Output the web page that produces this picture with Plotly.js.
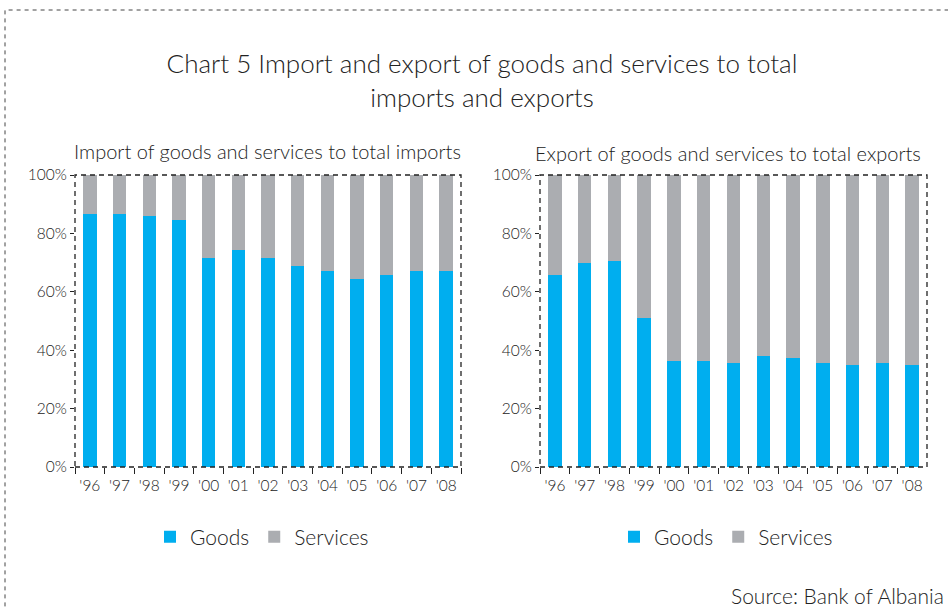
<!DOCTYPE html>
<html>
<head>
<meta charset="utf-8">
<script src="https://cdn.plot.ly/plotly-3.0.1.min.js"></script>
<style>html,body{margin:0;padding:0;background:#fff;}#chart{width:948px;height:607px;}</style>
</head>
<body>
<div id="chart"></div>
<script>
const years = ["'96","'97","'98","'99","'00","'01","'02","'03","'04","'05","'06","'07","'08"];
const importGoods    = [86.6, 86.6, 85.9, 84.6, 71.5, 74.3, 71.5, 68.8, 67.1, 64.3, 65.7, 67.1, 67.1];
const importServices = [13.4, 13.4, 14.1, 15.4, 28.5, 25.7, 28.5, 31.2, 32.9, 35.7, 34.3, 32.9, 32.9];
const exportGoods    = [65.6, 70.0, 70.7, 51.0, 36.2, 36.2, 35.5, 37.9, 37.2, 35.5, 34.8, 35.5, 34.8];
const exportServices = [34.4, 30.0, 29.3, 49.0, 63.8, 63.8, 64.5, 62.1, 62.8, 64.5, 65.2, 64.5, 65.2];
const yTicks = [0, 20, 40, 60, 80, 100];
const yTickLabels = ['0%', '20%', '40%', '60%', '80%', '100%'];

const goodsColor = '#00AEEF';
const servColor = '#ABADB1';
const textColor = '#222222';
const fontFam = 'Lato, "Open Sans", sans-serif';

const traces = [
  {type:'bar', x: years, y: importGoods, name:'Goods', marker:{color:goodsColor}, xaxis:'x', yaxis:'y', legend:'legend'},
  {type:'bar', x: years, y: importServices, name:'Services', marker:{color:servColor}, xaxis:'x', yaxis:'y', legend:'legend'},
  {type:'bar', x: years, y: exportGoods, name:'Goods', marker:{color:goodsColor}, xaxis:'x2', yaxis:'y2', legend:'legend2'},
  {type:'bar', x: years, y: exportServices, name:'Services', marker:{color:servColor}, xaxis:'x2', yaxis:'y2', legend:'legend2'}
];

const W = 948, H = 607;
const px = v => v / W;
const py = v => 1 - v / H;

const xCommon = {
  type:'category', ticks:'outside', tickson:'boundaries', ticklen:6, tickcolor:'#222', tickwidth:1,
  tickangle:0, ticklabelstandoff:7, showline:false, showgrid:false, zeroline:false, automargin:false,
  tickfont:{family:fontFam, size:15.5, color:textColor, weight:300}
};
const yCommon = {
  range:[0,100], tickmode:'array', tickvals: yTicks, ticktext: yTickLabels, ticks:'outside', ticklen:4, tickcolor:'#222', tickwidth:1,
  showline:false, showgrid:false, zeroline:false, automargin:false,
  tickfont:{family:fontFam, size:15.5, color:textColor, weight:300}
};

const layout = {
  width: W, height: H,
  margin:{l:0, r:0, t:0, b:0},
  paper_bgcolor:'#fff', plot_bgcolor:'#fff',
  barmode:'stack', bargap:0.55,
  font:{family:fontFam, color:textColor},
  title:{
    text:'Chart 5 Import and export of goods and services to total<br>imports and exports',
    font:{family:fontFam, size:26, color:textColor, weight:300},
    x: px(482), xanchor:'center', xref:'container',
    y: py(73), yanchor:'middle', yref:'container'
  },
  xaxis: Object.assign({}, xCommon, {domain:[px(75), px(461)], anchor:'y'}),
  yaxis: Object.assign({}, yCommon, {domain:[py(467), py(175)], anchor:'x'}),
  xaxis2: Object.assign({}, xCommon, {domain:[px(540), px(927)], anchor:'y2'}),
  yaxis2: Object.assign({}, yCommon, {domain:[py(467), py(175)], anchor:'x2'}),
  legend:{
    orientation:'h', x: px(262), xanchor:'center', y: py(537), yanchor:'middle',
    font:{family:fontFam, size:21, color:textColor, weight:300}, itemwidth:30, traceorder:'normal'
  },
  legend2:{
    orientation:'h', x: px(726), xanchor:'center', y: py(537), yanchor:'middle',
    font:{family:fontFam, size:21, color:textColor, weight:300}, itemwidth:30, traceorder:'normal'
  },
  annotations:[
    {text:'Import of goods and services to total imports', xref:'paper', yref:'paper',
     x: px(267), y: py(151), xanchor:'center', yanchor:'middle', showarrow:false,
     font:{family:fontFam, size:20, color:textColor, weight:300}},
    {text:'Export of goods and services to total exports', xref:'paper', yref:'paper',
     x: px(728), y: py(153), xanchor:'center', yanchor:'middle', showarrow:false,
     font:{family:fontFam, size:20, color:textColor, weight:300}},
    {text:'Source: Bank of Albania', xref:'paper', yref:'paper',
     x: 1, y: py(595), xanchor:'right', yanchor:'middle', showarrow:false, xshift:-2,
     font:{family:fontFam, size:21, color:textColor, weight:300}}
  ],
  shapes:[
    {type:'rect', xref:'x domain', yref:'y domain', x0:0, x1:1, y0:0, y1:1,
     line:{color:'#222', width:1.3, dash:'5px,4px'}, layer:'above'},
    {type:'rect', xref:'x2 domain', yref:'y2 domain', x0:0, x1:1, y0:0, y1:1,
     line:{color:'#222', width:1.3, dash:'5px,4px'}, layer:'above'},
    {type:'rect', xref:'paper', yref:'paper', x0: px(5), x1: 1.2, y0: -0.2, y1: py(10),
     line:{color:'#444', width:1, dash:'4px,4px'}, layer:'below'}
  ]
};

Plotly.newPlot('chart', traces, layout, {displayModeBar:false, staticPlot:true});
</script>
</body>
</html>
